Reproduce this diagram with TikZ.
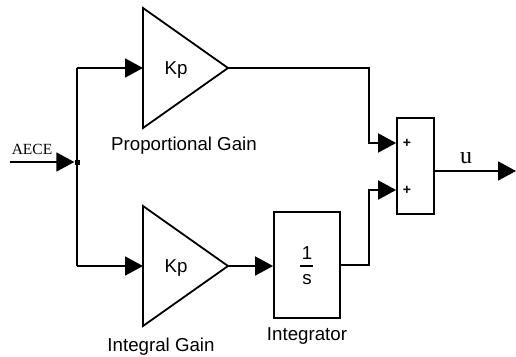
\documentclass[tikz,border=0pt]{standalone}
\usepackage{fontspec}
\setmainfont{Liberation Sans}
\newfontfamily\serifl{Liberation Serif}
\usetikzlibrary{arrows.meta}
\tikzset{
  wire/.style={line width=1.8pt,line join=miter},
  arr/.style={wire,-{Triangle[length=18pt,width=19pt]}},
  blockbox/.style={draw,line width=1.8pt,inner sep=0pt,fill=white},
  gain/.style={draw,line width=1.8pt,line join=miter,fill=white},
  lab/.style={inner sep=0pt,font=\fontsize{18.7}{20}\selectfont},
  plus/.style={inner sep=0pt,font=\bfseries\fontsize{14}{14}\selectfont},
  junction/.style={fill=black,inner sep=0pt,minimum size=5pt}
}
\begin{document}
\begin{tikzpicture}[x=1pt,y=-1pt]
\useasboundingbox (0,0) rectangle (516,356);
% gains
\coordinate (g1in) at (143,68);
\coordinate (g1out) at (228,68);
\coordinate (g2in) at (143,266);
\coordinate (g2out) at (228,266);
\draw[gain] (143,8) -- (g1out) -- (143,128) -- cycle;
\draw[gain] (143,206) -- (g2out) -- (143,326) -- cycle;
\node[lab] (kp1) at (176,70) {Kp};
\node[lab] (kp2) at (176,268) {Kp};
% blocks
\node[blockbox,minimum width=66pt,minimum height=106pt] (int) at (307,265) {};
\node[blockbox,minimum width=37pt,minimum height=96pt] (sum) at (415.5,166) {};
\node[lab] (one) at (307,253) {1};
\node[lab] (ess) at (307,280) {s};
\draw[line width=1.4pt] (300,266) -- (313,266);
% junction and routing points
\node[junction] (j) at (77,162) {};
\coordinate (src) at (10,162);
\coordinate (up) at (77,68);
\coordinate (dn) at (77,266);
\coordinate (s1) at (sum.west |- 0,143);
\coordinate (s2) at (sum.west |- 0,190);
\coordinate (iin) at (int.west |- 0,266);
\coordinate (iout) at (int.east |- 0,265);
\coordinate (r1) at (369,68);
\coordinate (r2) at (369,143);
\coordinate (r3) at (369,265);
\coordinate (r4) at (369,190);
\coordinate (sout) at (sum.east |- 0,171);
\coordinate (end) at (516,171);
% connectors
\draw[arr] (src) -- (j.west);
\draw[wire] (j.center) -- (up);
\draw[arr] (up) -- (g1in);
\draw[wire] (j.center) -- (dn);
\draw[arr] (dn) -- (g2in);
\draw[arr] (g2out) -- (iin);
\draw[arr] (g1out) -- (r1) -- (r2) -- (s1);
\draw[arr] (iout) -- (r3) -- (r4) -- (s2);
\draw[arr] (sout) -- (end);
% labels
\node[plus] (p1) at (407,143) {+};
\node[plus] (p2) at (407,190) {+};
\node[lab] (l1) at (184,146) {Proportional Gain};
\node[lab] (l2) at (161,347) {Integral Gain};
\node[lab] (l3) at (307,336) {Integrator};
\node[inner sep=0pt,font=\serifl\fontsize{15.5}{15}\selectfont] (aece) at (32,149) {AECE};
\node[inner sep=0pt,font=\serifl\fontsize{24}{24}\selectfont] (u) at (466,158) {u};
\end{tikzpicture}
\end{document}
